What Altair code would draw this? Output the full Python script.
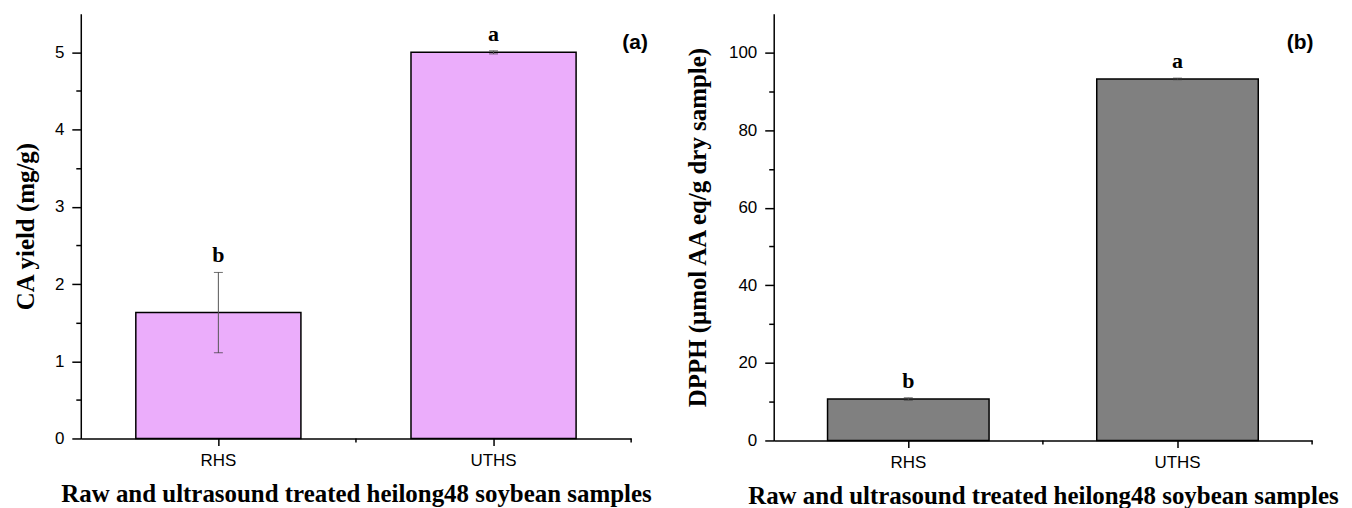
import altair as alt
import pandas as pd

categories = ["RHS", "UTHS"]
letters = ["b", "a"]

ca_yield = [1.63, 5.00]
ca_sd = [0.52, 0.02]
ca_ticks = [0, 0.5, 1, 1.5, 2, 2.5, 3, 3.5, 4, 4.5, 5]

dpph = [10.7, 93.2]
dpph_sd = [0.3, 0.2]
dpph_ticks = [0, 10, 20, 30, 40, 50, 60, 70, 80, 90, 100]

x_title = "Raw and ultrasound treated heilong48 soybean samples"
SERIF = "Liberation Serif"
SANS = "Liberation Sans"


def panel(values, sds, ymax, ticks, major, ytitle, color, w, h, tag, ytitle_pad):
    df = pd.DataFrame({
        "cat": categories,
        "v": values,
        "lo": [v - s for v, s in zip(values, sds)],
        "hi": [v + s for v, s in zip(values, sds)],
        "letter": letters,
    })
    base = alt.Chart(df)
    xs = alt.Scale(type="band", paddingInner=0, paddingOuter=0)
    ys = alt.Scale(domain=[0, ymax], nice=False, zero=True)
    x = alt.X(
        "cat:N", scale=xs, sort=categories,
        axis=alt.Axis(
            title=x_title, labelAngle=0, bandPosition=0.5,
            domainColor="black", domainWidth=1.5, tickColor="black",
            tickWidth=1.5, tickSize=7, labelFont=SANS, labelFontSize=17,
            labelColor="black", labelPadding=7, titleFont=SERIF,
            titleFontWeight="bold", titleFontSize=25, titleColor="black",
            titlePadding=13, grid=False,
        ),
    )
    y = alt.Y(
        "v:Q", scale=ys,
        axis=alt.Axis(
            title=ytitle, values=ticks,
            labelExpr=f"datum.value % {major} === 0 ? format(datum.value, 'd') : ''",
            tickSize={"expr": f"datum.value % {major} === 0 ? 9 : 5"},
            domainColor="black", domainWidth=1.5, tickColor="black",
            tickWidth=1.5, labelFont=SANS, labelFontSize=17,
            labelColor="black", labelPadding=8, titleFont=SERIF,
            titleFontWeight="bold", titleFontSize=25, titleColor="black",
            titlePadding=ytitle_pad, grid=False,
        ),
    )
    bars = base.mark_bar(
        width=alt.RelativeBandSize(0.6), color=color, stroke="black",
        strokeWidth=1.5,
    ).encode(x=x, y=y)
    err = base.mark_rule(color="#555555", strokeWidth=1).encode(
        x=alt.X("cat:N", sort=categories), y="lo:Q", y2="hi:Q")
    cap_lo = base.mark_tick(color="#333333", thickness=1, size=9).encode(
        x=alt.X("cat:N", sort=categories), y="lo:Q")
    cap_hi = base.mark_tick(color="#333333", thickness=1, size=9).encode(
        x=alt.X("cat:N", sort=categories), y="hi:Q")
    txt = base.mark_text(
        baseline="alphabetic", dy=-10, font=SERIF, fontWeight="bold",
        fontSize=22, color="black",
    ).encode(x=alt.X("cat:N", sort=categories), y="hi:Q", text="letter:N")
    minor = base.mark_rule(color="black", strokeWidth=1.5).encode(
        x=alt.X("cat:N", sort=categories, bandPosition=1),
        y=alt.value(h), y2=alt.value(h + 4))
    lab = alt.Chart(pd.DataFrame({"t": [tag[0]]})).mark_text(
        font=SANS, fontWeight="bold", fontSize=21, color="black",
        align="center", baseline="middle",
    ).encode(text="t:N", x=alt.value(tag[1]), y=alt.value(tag[2]))
    return alt.layer(bars, err, cap_lo, cap_hi, txt, minor, lab).properties(
        width=w, height=h)


left = panel(ca_yield, ca_sd, 5.5, ca_ticks, 1, "CA yield (mg/g)",
             "#EBADFB", 552, 426, ("(a)", 556, 29), 16)
right = panel(dpph, dpph_sd, 110, dpph_ticks, 20,
              "DPPH (μmol AA eq/g dry sample)", "#808080", 540, 428,
              ("(b)", 528, 29), 18)

chart = alt.hconcat(left, right, spacing=33).configure_view(
    stroke=None).properties(background="white")

chart.save("out.html", embed_options={"renderer": "svg", "actions": False})
